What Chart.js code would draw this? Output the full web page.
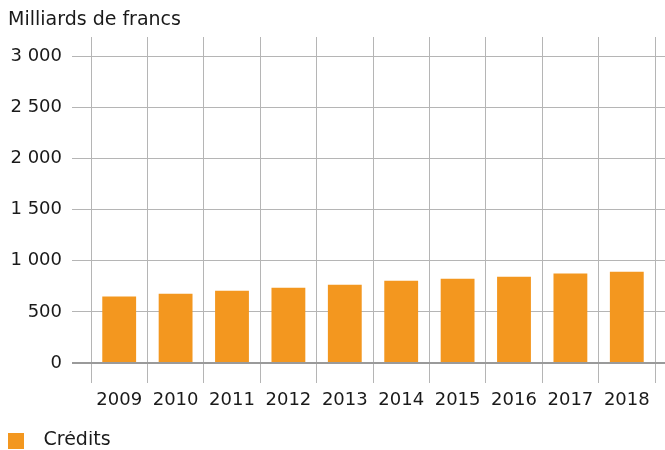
<!DOCTYPE html>
<html>
<head>
<meta charset="utf-8">
<script src="https://cdn.jsdelivr.net/npm/chart.js@4/dist/chart.umd.min.js"></script>
<style>
  body { margin: 0; background: #fff; }
</style>
</head>
<body>
<canvas id="chart" width="665" height="450"></canvas>
<script>
// data
var years = ['2009','2010','2011','2012','2013','2014','2015','2016','2017','2018'];
var credits = [651, 677, 707, 737, 766, 806, 825, 845, 875, 894];
var yTicks = [0, 500, 1000, 1500, 2000, 2500, 3000];
var seriesName = 'Crédits';
var unitLabel = 'Milliards de francs';

var orange = '#f3971f';
var gridCol = '#b5b5b5';
var baseCol = '#9a9a9a';
var textCol = '#1a1a1a';

function fmt(v) {
  return String(v).replace(/\B(?=(\d{3})+(?!\d))/g, ' ');
}
function setTicks(scale) {
  scale.ticks = yTicks.map(function (v) { return { value: v }; });
}

// legend swatch: 16px square inside a 26px wide box so the text sits further right
var swatch = document.createElement('canvas');
swatch.width = 26;
swatch.height = 16;
var sc = swatch.getContext('2d');
sc.fillStyle = orange;
sc.fillRect(0, 0, 16, 16);

var ctx = document.getElementById('chart').getContext('2d');
var chart = new Chart(ctx, {
  type: 'bar',
  data: {
    labels: years,
    datasets: [{
      label: seriesName,
      data: credits,
      backgroundColor: orange,
      borderWidth: 0,
      barPercentage: 0.6,
      categoryPercentage: 1
    }]
  },
  options: {
    responsive: false,
    animation: false,
    layout: { padding: { left: 8, right: 0, top: 0, bottom: -10 } },
    plugins: {
      title: {
        display: true,
        text: unitLabel,
        align: 'start',
        color: textCol,
        font: { family: 'DejaVu Sans', size: 19, weight: 'normal' },
        padding: { top: 8.6, bottom: 5.6 }
      },
      legend: {
        position: 'bottom',
        align: 'start',
        labels: {
          usePointStyle: true,
          pointStyle: swatch,
          pointStyleWidth: 26,
          padding: 0,
          color: textCol,
          font: { family: 'DejaVu Sans', size: 19 }
        }
      },
      tooltip: { enabled: false }
    },
    scales: {
      x: {
        offset: true,
        grid: { color: gridCol, lineWidth: 1, offset: true, tickLength: 20 },
        border: { display: false },
        ticks: {
          color: textCol,
          padding: 7,
          maxRotation: 0,
          font: { family: 'DejaVu Sans', size: 18 }
        },
        afterFit: function (s) { s.height = 68; }
      },
      y: {
        min: 0,
        max: 3190,
        afterBuildTicks: setTicks,
        grid: {
          color: function (c) { return c.tick && c.tick.value === 0 ? baseCol : gridCol; },
          lineWidth: function (c) { return c.tick && c.tick.value === 0 ? 2 : 1; },
          tickLength: 19
        },
        border: { display: false },
        ticks: {
          color: textCol,
          padding: 10,
          font: { family: 'DejaVu Sans', size: 18 },
          callback: function (v) { return fmt(v); }
        },
        afterFit: function (s) { s.width = 83; }
      },
      yRight: {
        position: 'right',
        min: 0,
        max: 3190,
        afterBuildTicks: setTicks,
        grid: {
          drawOnChartArea: false,
          color: function (c) { return c.tick && c.tick.value === 0 ? baseCol : gridCol; },
          lineWidth: function (c) { return c.tick && c.tick.value === 0 ? 2 : 1; },
          tickLength: 10
        },
        border: { display: false },
        ticks: { display: false },
        afterFit: function (s) { s.width = 10; }
      }
    }
  }
});
</script>
</body>
</html>
